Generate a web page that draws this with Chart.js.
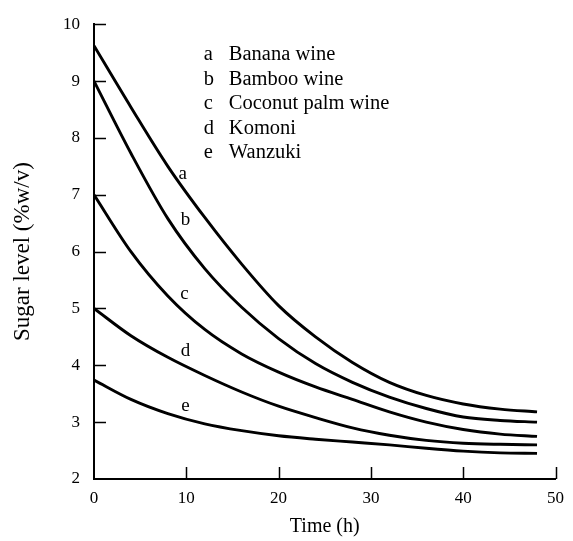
<!DOCTYPE html>
<html>
<head>
<meta charset="utf-8">
<script src="https://cdn.jsdelivr.net/npm/chart.js@4/dist/chart.umd.min.js"></script>
<style>
  html, body { margin: 0; padding: 0; background: #fff; }
  #wrap { width: 573px; height: 541px; position: relative; }
</style>
</head>
<body>
<div id="wrap"><canvas id="c"></canvas></div>
<script>
// Sampling times (h)
const hours = [0, 4, 8, 12, 16, 20, 24, 28, 32, 36, 40, 44, 48];

// Sugar level (% w/v) for each beverage
const bananaWine      = [9.62, 8.54, 7.5, 6.6, 5.78, 5.05, 4.5, 4.05, 3.7, 3.47, 3.32, 3.23, 3.18];
const bambooWine      = [9.0, 7.73, 6.58, 5.7, 5.02, 4.47, 4.03, 3.7, 3.44, 3.24, 3.09, 3.03, 3.0];
const coconutPalmWine = [7.0, 6.0, 5.22, 4.63, 4.2, 3.88, 3.62, 3.4, 3.18, 3.0, 2.87, 2.79, 2.75];
const komoni          = [5.0, 4.52, 4.14, 3.82, 3.53, 3.28, 3.08, 2.9, 2.77, 2.68, 2.63, 2.61, 2.6];
const wanzuki         = [3.74, 3.4, 3.15, 2.97, 2.85, 2.76, 2.7, 2.65, 2.6, 2.54, 2.49, 2.46, 2.45];

const seriesKeys  = ['a', 'b', 'c', 'd', 'e'];
const seriesNames = ['Banana wine', 'Bamboo wine', 'Coconut palm wine', 'Komoni', 'Wanzuki'];
const seriesData  = [bananaWine, bambooWine, coconutPalmWine, komoni, wanzuki];

const xTicks = [0, 10, 20, 30, 40, 50];
const yTicks = [2, 3, 4, 5, 6, 7, 8, 9, 10];

const FONT = '"Liberation Serif", "Times New Roman", serif';

// Letter tags beside each curve, in data units (t, level)
const curveTags = [
  { t: 9.6, v: 7.37 },
  { t: 9.9, v: 6.56 },
  { t: 9.8, v: 5.25 },
  { t: 9.9, v: 4.25 },
  { t: 9.9, v: 3.28 }
];

const datasets = seriesData.map((vals, i) => ({
  label: seriesNames[i],
  data: vals.map((v, j) => ({ x: hours[j], y: v })),
  borderColor: '#000',
  borderWidth: 2.9,
  pointRadius: 0,
  fill: false,
  cubicInterpolationMode: 'monotone'
}));

// Inward tick marks, key text and curve letters
const decorations = {
  id: 'decorations',
  afterDraw(chart) {
    const ctx = chart.ctx;
    const xs = chart.scales.x, ys = chart.scales.y;
    ctx.save();
    ctx.strokeStyle = '#000';
    ctx.lineWidth = 1.5;
    ctx.beginPath();
    yTicks.forEach(v => {
      if (v === ys.min) return;
      const py = Math.round(ys.getPixelForValue(v)) + 0.5;
      ctx.moveTo(xs.left, py);
      ctx.lineTo(xs.left + 12, py);
    });
    xTicks.forEach(v => {
      if (v === xs.min) return;
      const px = Math.round(xs.getPixelForValue(v)) + 0.5;
      ctx.moveTo(px, ys.bottom);
      ctx.lineTo(px, ys.bottom - 12);
    });
    ctx.stroke();

    ctx.fillStyle = '#000';
    ctx.font = '20.5px ' + FONT;
    ctx.textBaseline = 'middle';
    // key block
    const keyX = xs.getPixelForValue(11.9);
    const keyY = ys.getPixelForValue(9.46);
    const rowH = 24.5;
    seriesKeys.forEach((k, i) => {
      ctx.textAlign = 'left';
      ctx.fillText(k, keyX, keyY + i * rowH);
      ctx.fillText(seriesNames[i], keyX + 25, keyY + i * rowH);
    });
    // curve letters
    ctx.font = '19px ' + FONT;
    ctx.textAlign = 'center';
    curveTags.forEach((p, i) => {
      ctx.fillText(seriesKeys[i], xs.getPixelForValue(p.t), ys.getPixelForValue(p.v));
    });
    ctx.restore();
  }
};

new Chart(document.getElementById('c'), {
  type: 'line',
  data: { datasets },
  options: {
    responsive: true,
    maintainAspectRatio: false,
    animation: false,
    layout: { padding: { top: 22, right: 15, left: 0, bottom: 0 } },
    plugins: { legend: { display: false }, tooltip: { enabled: false } },
    scales: {
      x: {
        type: 'linear',
        min: 0, max: 50,
        afterBuildTicks: s => { s.ticks = xTicks.map(v => ({ value: v })); },
        afterFit: s => { s.height = 62; },
        ticks: { color: '#000', font: { family: FONT, size: 17 }, padding: 9, maxRotation: 0 },
        grid: { drawOnChartArea: false, drawTicks: false },
        border: { display: true, color: '#000', width: 2 },
        title: { display: true, text: 'Time (h)', color: '#000', font: { family: FONT, size: 20 }, padding: { top: 2, bottom: 2 } }
      },
      y: {
        type: 'linear',
        min: 2, max: 10,
        afterBuildTicks: s => { s.ticks = yTicks.map(v => ({ value: v })); },
        afterFit: s => { s.width = 94; },
        ticks: { color: '#000', font: { family: FONT, size: 17 }, padding: 14 },
        grid: { drawOnChartArea: false, drawTicks: false },
        border: { display: true, color: '#000', width: 2 },
        title: { display: true, text: 'Sugar level (%w/v)', color: '#000', font: { family: FONT, size: 23 }, padding: { top: 9, bottom: 4 } }
      }
    }
  },
  plugins: [decorations]
});
</script>
</body>
</html>
